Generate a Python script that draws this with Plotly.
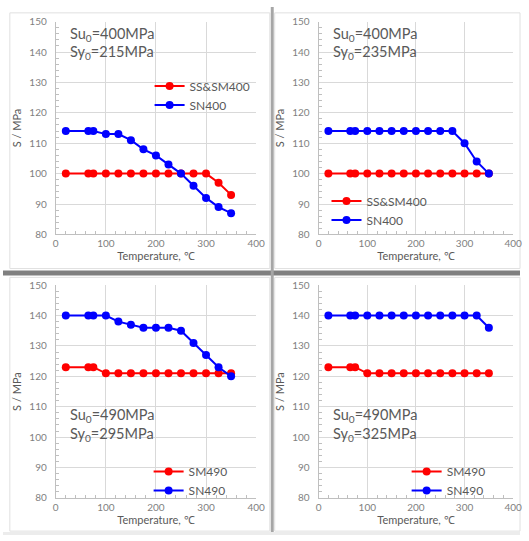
import plotly.graph_objects as go

W, H = 529, 541

temps = [20, 65, 75, 100, 125, 150, 175, 200, 225, 250, 275, 300, 325, 350]

# Panel 1 (Su0=400, Sy0=215)
p1_ss_sm400 = [100, 100, 100, 100, 100, 100, 100, 100, 100, 100, 100, 100, 97, 93]
p1_sn400 = [114, 114, 114, 113, 113, 111, 108, 106, 103, 100, 96, 92, 89, 87]
# Panel 2 (Su0=400, Sy0=235)
p2_ss_sm400 = [100, 100, 100, 100, 100, 100, 100, 100, 100, 100, 100, 100, 100, 100]
p2_sn400 = [114, 114, 114, 114, 114, 114, 114, 114, 114, 114, 114, 110, 104, 100]
# Panel 3 (Su0=490, Sy0=295)
p3_sm490 = [123, 123, 123, 121, 121, 121, 121, 121, 121, 121, 121, 121, 121, 121]
p3_sn490 = [140, 140, 140, 140, 138, 137, 136, 136, 136, 135, 131, 127, 123, 120]
# Panel 4 (Su0=490, Sy0=325)
p4_sm490 = [123, 123, 123, 121, 121, 121, 121, 121, 121, 121, 121, 121, 121, 121]
p4_sn490 = [140, 140, 140, 140, 140, 140, 140, 140, 140, 140, 140, 140, 140, 136]

panel_labels = [
    ("400", "215"), ("400", "235"), ("490", "295"), ("490", "325"),
]
series_names = [("SS&SM400", "SN400"), ("SS&SM400", "SN400"), ("SM490", "SN490"), ("SM490", "SN490")]
panel_data = [(p1_ss_sm400, p1_sn400), (p2_ss_sm400, p2_sn400), (p3_sm490, p3_sn490), (p4_sm490, p4_sn490)]

RED = "#ff0000"
BLUE = "#0000ff"
FONT = "Lato"
TXT = "#595959"
TICK = "#7f7f7f"
GRID = "#d9d9d9"

def px_x(p):
    return p / W

def px_y(p):
    return 1 - p / H

# plot-area pixel boxes: (x0, x1, ytop, ybottom)
boxes = [
    (54, 259, 15, 233),
    (323, 522, 15, 233),
    (54, 259, 285, 503),
    (323, 522, 285, 503),
]
# annotation text positions (left x, center y for first line)
ann_pos = [(66, 28), (336, 28), (66, 419), (336, 419)]
# legend positions (left of line, top of first row)
leg_pos = [(150, 66), (331, 184), (149, 461), (413, 461)]

fig = go.Figure()
layout = dict(
    width=W, height=H,
    margin=dict(l=0, r=0, t=0, b=0),
    paper_bgcolor="white", plot_bgcolor="white",
    font=dict(family=FONT, color=TXT),
    annotations=[], shapes=[],
)

for i in range(4):
    k = "" if i == 0 else str(i + 1)
    xa, ya = "x" + k, "y" + k
    leg = "legend" if i == 0 else "legend" + str(i + 1)
    a, b = panel_data[i]
    na, nb = series_names[i]
    fig.add_trace(go.Scatter(x=temps, y=a, name=na, mode="lines+markers",
                             line=dict(color=RED, width=2), marker=dict(color=RED, size=8),
                             xaxis=xa, yaxis=ya, legend=leg))
    fig.add_trace(go.Scatter(x=temps, y=b, name=nb, mode="lines+markers",
                             line=dict(color=BLUE, width=2), marker=dict(color=BLUE, size=8),
                             xaxis=xa, yaxis=ya, legend=leg))
    x0, x1, yt, yb = boxes[i]
    layout["xaxis" + k] = dict(
        domain=[px_x(x0), px_x(x1)], range=[0, 400], dtick=100, tick0=0,
        showgrid=True, gridcolor=GRID, gridwidth=1,
        showline=True, linecolor="#bfbfbf", linewidth=1,
        ticks="", zeroline=False, anchor=ya,
        tickfont=dict(size=10, color=TICK, family=FONT),
        minor=dict(ticks="inside", dtick=20, ticklen=3, tickcolor="#bfbfbf", showgrid=False),
        title=dict(text="Temperature, ℃", font=dict(size=11, color=TXT, family=FONT), standoff=3),
    )
    layout["yaxis" + k] = dict(
        domain=[px_y(yb), px_y(yt)], range=[80, 150], dtick=10, tick0=80,
        showgrid=True, gridcolor=GRID, gridwidth=1,
        showline=True, linecolor="#bfbfbf", linewidth=1,
        ticks="", zeroline=False, anchor=xa,
        tickfont=dict(size=10, color=TICK, family=FONT),
        minor=dict(ticks="inside", dtick=2, ticklen=3, tickcolor="#bfbfbf", showgrid=False),
        ticklabelstandoff=6,
        title=dict(text="S / MPa", font=dict(size=11, color=TXT, family=FONT), standoff=5),
    )
    su, sy = panel_labels[i]
    ax, ay = ann_pos[i]
    layout["annotations"].append(dict(
        x=px_x(ax), y=px_y(ay), xref="paper", yref="paper", xanchor="left", yanchor="middle",
        text="Su<sub>0</sub>=" + su + "MPa", showarrow=False,
        font=dict(size=14.5, color=TXT, family=FONT)))
    layout["annotations"].append(dict(
        x=px_x(ax), y=px_y(ay + 19), xref="paper", yref="paper", xanchor="left", yanchor="middle",
        text="Sy<sub>0</sub>=" + sy + "MPa", showarrow=False,
        font=dict(size=14.5, color=TXT, family=FONT)))
    lx, ly = leg_pos[i]
    layout[leg] = dict(
        x=px_x(lx), y=px_y(ly), xref="paper", yref="paper", xanchor="left", yanchor="top",
        bgcolor="rgba(0,0,0,0)", borderwidth=0, itemwidth=30, tracegroupgap=0,
        font=dict(size=12, color=TXT, family=FONT),
    )

# panel frames
frames = [(7, 6, 273, 268), (278, 6, 529, 268), (7, 277, 273, 537), (278, 277, 529, 537)]
for (fx0, fy0, fx1, fy1) in frames:
    layout["shapes"].append(dict(type="rect", xref="paper", yref="paper",
                                 x0=px_x(fx0), x1=px_x(fx1), y0=px_y(fy1), y1=px_y(fy0),
                                 line=dict(color="#e0e0e0", width=1), layer="below"))
# separators
layout["shapes"].append(dict(type="rect", xref="paper", yref="paper",
                             x0=0, x1=1, y0=px_y(275), y1=px_y(270),
                             fillcolor="#808080", line=dict(width=0)))
layout["shapes"].append(dict(type="rect", xref="paper", yref="paper",
                             x0=px_x(274), x1=px_x(277), y0=0, y1=1,
                             fillcolor="#a6a6a6", line=dict(width=0)))
layout["shapes"].append(dict(type="rect", xref="paper", yref="paper",
                             x0=0, x1=1, y0=0, y1=px_y(538),
                             fillcolor="#ececec", line=dict(width=0)))

fig.update_layout(**layout)
fig.write_html("out.html")
